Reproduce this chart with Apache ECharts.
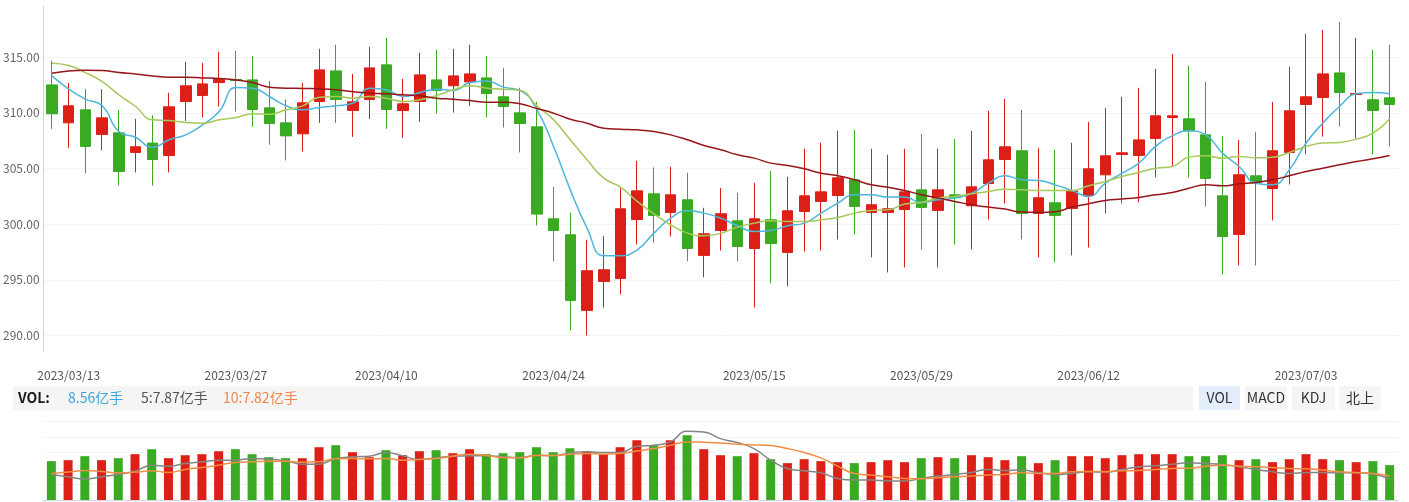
<!DOCTYPE html>
<html><head><meta charset="utf-8">
<script src="https://cdn.jsdelivr.net/npm/echarts@6/dist/echarts.min.js"></script>
<style>html,body{margin:0;padding:0;background:#fff}#c{width:1409px;height:502px}</style>
</head><body><div id="c"></div>
<script>
const dates = [
'2023/03/10',
'2023/03/13','2023/03/14','2023/03/15','2023/03/16','2023/03/17',
'2023/03/20','2023/03/21','2023/03/22','2023/03/23','2023/03/24',
'2023/03/27','2023/03/28','2023/03/29','2023/03/30','2023/03/31',
'2023/04/03','2023/04/04','2023/04/06','2023/04/07',
'2023/04/10','2023/04/11','2023/04/12','2023/04/13','2023/04/14',
'2023/04/17','2023/04/18','2023/04/19','2023/04/20','2023/04/21',
'2023/04/24','2023/04/25','2023/04/26','2023/04/27','2023/04/28',
'2023/05/04','2023/05/05',
'2023/05/08','2023/05/09','2023/05/10','2023/05/11','2023/05/12',
'2023/05/15','2023/05/16','2023/05/17','2023/05/18','2023/05/19',
'2023/05/22','2023/05/23','2023/05/24','2023/05/25','2023/05/26',
'2023/05/29','2023/05/30','2023/05/31',
'2023/06/01','2023/06/02',
'2023/06/05','2023/06/06','2023/06/07','2023/06/08','2023/06/09',
'2023/06/12','2023/06/13','2023/06/14','2023/06/15','2023/06/16',
'2023/06/19','2023/06/20','2023/06/21',
'2023/06/26','2023/06/27','2023/06/28','2023/06/29','2023/06/30',
'2023/07/03','2023/07/04','2023/07/05','2023/07/06','2023/07/07',
'2023/07/10'];
const tickDates = ['2023/03/13','2023/03/27','2023/04/10','2023/04/24','2023/05/15','2023/05/29','2023/06/12','2023/07/03'];

const opens = [
312.51,309.10,310.27,308.05,308.20,306.44,307.28,306.17,311.02,311.56,
312.72,313.00,312.96,310.45,309.10,308.11,311.02,313.77,310.21,311.20,
314.31,310.21,311.02,312.96,312.43,312.78,313.14,311.44,310.00,308.74,
300.48,299.04,292.25,294.85,295.12,300.42,302.72,301.05,302.19,297.19,
299.43,300.30,297.81,300.39,297.46,301.14,302.04,302.57,303.98,301.05,
301.05,301.32,303.08,301.23,302.63,301.65,303.65,305.81,306.59,300.96,
301.92,301.41,302.57,304.43,306.26,306.17,307.69,309.58,309.46,308.02,
302.54,299.07,304.34,303.20,306.44,310.75,311.38,313.59,311.65,311.17,
311.35];
const closes = [
309.91,310.63,306.98,309.55,304.73,306.95,305.81,310.54,312.43,312.60,
313.00,312.90,310.30,309.04,307.93,310.90,313.86,311.20,310.99,314.04,
310.30,310.81,313.41,312.01,313.32,313.50,311.74,310.57,309.04,300.90,
299.43,293.14,295.81,295.90,301.38,302.99,300.78,302.63,297.81,299.13,
300.93,297.99,300.48,298.26,301.20,302.54,302.90,304.16,301.59,301.74,
301.38,302.90,301.50,303.08,302.40,303.35,305.78,306.95,300.96,302.37,
300.78,302.99,304.97,306.14,306.41,307.57,309.73,309.73,308.38,304.10,
298.89,304.43,303.71,306.59,310.18,311.44,313.50,311.83,311.74,310.21,
310.75];
const lows = [
308.56,306.86,304.58,306.62,303.47,304.64,303.47,304.64,309.28,309.61,
310.57,310.11,308.74,307.13,305.72,306.53,309.10,309.10,307.84,309.46,
308.56,307.75,309.19,309.94,310.03,310.63,309.58,308.68,306.44,299.88,
296.65,290.45,290.00,292.51,293.68,298.17,298.35,298.89,296.65,295.21,
297.63,296.65,292.51,294.67,294.40,297.54,297.63,298.62,299.07,297.01,
295.66,296.11,297.72,296.11,298.17,297.72,300.42,301.86,298.62,297.01,
296.56,297.19,297.90,300.96,301.86,301.95,304.19,305.18,304.19,301.59,
295.48,296.29,296.29,300.33,303.56,306.26,307.87,308.77,307.69,306.26,
306.98];
const highs = [
314.67,312.69,312.13,312.13,310.27,309.46,309.79,311.80,314.58,314.49,
315.48,315.57,315.12,312.87,311.20,312.69,315.75,316.11,313.50,315.93,
316.74,313.05,315.39,315.66,315.75,316.11,315.12,314.04,312.25,310.99,
303.35,301.02,298.59,298.95,303.23,305.69,305.09,305.15,304.61,301.47,
303.26,302.81,303.71,304.79,304.25,306.77,307.31,308.38,308.47,306.77,
306.23,306.77,308.11,306.77,307.66,308.38,310.18,311.26,310.27,306.86,
306.68,307.31,309.19,310.45,311.44,312.25,313.95,315.30,314.22,312.78,
307.93,307.57,308.29,310.99,314.13,317.10,317.46,318.17,316.74,315.66,
316.11];

const ma5 = [
313.32,312.13,311.23,310.63,308.32,307.81,306.89,307.58,308.02,308.92,
310.12,312.28,312.22,311.47,310.63,310.27,310.48,310.63,310.87,312.22,
312.07,311.47,311.83,312.13,312.01,312.72,312.87,312.31,312.01,310.27,
306.98,303.08,299.64,297.16,297.16,297.69,299.19,300.54,301.20,300.99,
300.54,299.85,299.34,299.43,299.85,300.09,300.99,301.89,302.64,302.64,
302.43,302.43,301.95,302.19,302.34,302.78,303.68,304.34,303.98,303.92,
303.53,303.02,302.49,303.68,304.58,305.48,306.98,307.93,308.38,308.02,
306.38,305.18,303.68,303.53,304.88,307.28,309.07,310.57,311.71,311.83,
311.71];
const ma10 = [
314.46,314.25,313.62,312.81,311.62,310.57,309.37,309.31,309.13,309.07,
309.37,309.58,309.91,309.88,310.27,310.63,311.41,311.47,311.32,311.47,
311.32,311.02,311.17,311.56,312.07,312.43,312.22,312.13,312.01,310.63,
309.37,307.58,305.78,304.13,303.32,302.04,300.93,299.94,299.19,298.95,
299.19,299.73,300.09,300.30,300.24,300.24,300.39,300.60,300.99,301.23,
301.29,301.80,301.95,302.34,302.49,302.72,302.93,303.14,303.08,303.02,
303.02,303.02,303.44,303.83,304.28,304.64,305.03,305.18,306.02,306.14,
305.93,306.08,305.96,306.02,306.44,306.98,307.28,307.34,307.64,308.17,
309.46];
const ma60 = [
313.56,313.77,313.83,313.80,313.62,313.50,313.32,313.20,313.20,313.14,
313.08,312.96,312.72,312.31,312.22,312.19,312.16,312.07,311.89,311.77,
311.71,311.62,311.53,311.32,311.23,311.11,310.96,310.96,310.81,310.39,
309.97,309.43,309.07,308.62,308.53,308.47,308.32,308.02,307.58,307.07,
306.68,306.23,305.93,305.48,305.27,304.97,304.58,304.34,303.98,303.53,
303.32,303.02,302.64,302.34,302.04,301.74,301.53,301.35,301.08,301.05,
301.11,301.53,301.83,302.13,302.25,302.40,302.64,302.84,303.23,303.53,
303.44,303.62,303.74,303.98,304.34,304.73,305.03,305.33,305.63,305.87,
306.17];

const volumes = [
9.54,9.78,10.76,9.78,10.27,11.25,12.47,10.27,11.00,11.25,
11.98,12.47,11.25,10.51,10.27,10.27,12.96,13.45,11.74,10.51,
12.23,11.00,11.98,12.23,11.49,12.47,11.25,11.49,11.74,12.96,
11.74,12.71,11.98,11.25,12.96,14.67,13.45,14.67,15.89,12.47,
11.00,10.76,11.49,10.02,9.05,10.02,9.54,9.29,9.05,9.29,
9.78,9.29,10.27,10.51,10.27,11.00,10.51,9.78,10.76,9.05,
9.78,10.76,10.76,10.27,11.00,11.25,11.25,11.25,10.76,10.76,
11.00,9.78,10.02,9.29,10.02,11.25,10.02,9.78,9.29,9.54,
8.56];
const volMa5 = [
6.28,5.71,5.13,5.71,6.28,7.09,8.56,8.31,8.97,9.37,
9.78,9.78,10.19,10.02,9.62,8.80,8.80,10.19,10.60,10.76,
11.65,10.84,9.94,10.35,10.76,10.84,10.84,10.60,10.43,11.00,
10.84,11.57,11.82,11.65,11.65,13.20,13.45,14.26,16.87,16.71,
15.08,14.10,12.63,9.78,7.74,7.17,6.68,5.30,4.89,4.89,
4.73,4.65,5.30,5.87,6.28,6.76,7.50,7.25,7.34,6.68,
6.28,6.52,6.93,6.85,7.50,8.15,8.39,8.80,9.13,8.97,
8.72,8.15,7.50,6.93,6.52,6.76,6.76,6.68,6.68,6.36,
5.13];
const volMa10 = [
6.52,6.85,7.25,7.01,6.68,6.85,7.17,6.76,7.50,7.99,
8.56,9.21,9.37,9.54,9.54,9.29,9.37,10.11,10.19,10.11,
10.19,9.78,9.94,10.19,10.76,11.25,10.92,10.43,10.35,10.92,
10.92,11.25,11.41,11.25,11.41,12.06,12.63,13.45,14.26,14.18,
14.02,13.69,13.53,13.37,12.63,11.65,10.35,8.31,6.52,6.11,
5.71,5.30,5.22,5.46,5.71,5.87,6.11,6.28,6.68,6.52,
6.52,6.93,7.01,6.93,7.17,7.25,7.50,7.74,7.82,8.31,
8.56,8.31,8.15,7.99,7.74,7.66,7.34,6.93,6.76,6.52,
5.87];

const volLabel = 'VOL:';
const volText = '8.56亿手';
const volMa5Text = '5:7.87亿手';
const volMa10Text = '10:7.82亿手';
const tabs = ['VOL','MACD','KDJ','北上'];

const RED = '#dc1f17', GREEN = '#39aa22';
const FONT = '"Noto Sans CJK SC","Noto Sans",sans-serif';

const chart = echarts.init(document.getElementById('c'), null, {renderer:'canvas'});

const candleData = dates.map((d,i)=>[opens[i], closes[i], lows[i], highs[i]]);
const volData = volumes.map((v,i)=>({value:v, itemStyle:{color: closes[i] >= opens[i] ? RED : GREEN}}));

const tabX = [1199, 1245, 1292, 1339];
const tabW = [41, 42, 43, 42];
const graphics = [
  {type:'rect', x:13, y:386, shape:{width:1180, height:24}, style:{fill:'#f5f5f5'}, silent:true},
  {type:'text', x:18, y:398, style:{text:volLabel, fill:'#1a1a1a', font:'bold 14px ' + FONT, verticalAlign:'middle'}},
  {type:'text', x:68, y:398, style:{text:volText, fill:'#3ea7d9', font:'14px ' + FONT, verticalAlign:'middle'}},
  {type:'text', x:141, y:398, style:{text:volMa5Text, fill:'#555555', font:'14px ' + FONT, verticalAlign:'middle'}},
  {type:'text', x:223, y:398, style:{text:volMa10Text, fill:'#f0874a', font:'14px ' + FONT, verticalAlign:'middle'}}
];
tabs.forEach((t,i)=>{
  graphics.push({type:'rect', x:tabX[i], y:386, shape:{width:tabW[i], height:24}, style:{fill: i===0 ? '#e4eefa' : '#f5f5f5'}});
  graphics.push({type:'text', x:tabX[i]+tabW[i]/2, y:398, style:{text:t, fill:'#333', font:'14px ' + FONT, align:'center', verticalAlign:'middle'}});
});

const isTick5 = v => Math.abs(v/5 - Math.round(v/5)) < 1e-6;

chart.setOption({
  animation:false,
  backgroundColor:'#fff',
  textStyle:{fontFamily:FONT},
  grid:[
    {left:43, right:11, top:6, height:345},
    {left:43, right:11, top:421, height:79}
  ],
  xAxis:[
    {type:'category', data:dates, gridIndex:0, boundaryGap:true,
     axisLine:{show:false}, axisTick:{show:false}, splitLine:{show:false},
     axisLabel:{color:'#555', fontSize:12, margin:18, fontFamily:FONT,
       interval:(idx, val)=>tickDates.includes(val)}},
    {type:'category', data:dates, gridIndex:1, boundaryGap:true,
     axisLine:{show:true, lineStyle:{color:'#c9d6ea', width:1}}, axisTick:{show:false},
     axisLabel:{show:false}, splitLine:{show:false}}
  ],
  yAxis:[
    {type:'value', gridIndex:0, min:288.6, max:319.6, splitNumber:5, scale:true,
     axisLine:{show:true, lineStyle:{color:'#c9d6ea', width:1}}, axisTick:{show:false},
     axisLabel:{color:'#666', fontSize:12, margin:4, fontFamily:FONT, showMinLabel:false, showMaxLabel:false,
       formatter:v=> isTick5(v) ? v.toFixed(2) : ''},
     splitLine:{show:true, showMinLine:false, showMaxLine:false, lineStyle:{color:'#f3f3f3', width:1}}},
    {type:'value', gridIndex:1, min:0, max:19.4, interval:3.88,
     axisLine:{show:false}, axisTick:{show:false}, axisLabel:{show:false},
     splitLine:{show:true, showMinLine:false, lineStyle:{color:'#f3f3f3', width:1}}}
  ],
  series:[
    {type:'candlestick', xAxisIndex:0, yAxisIndex:0, data:candleData, barWidth:11,
     itemStyle:{color:RED, color0:GREEN, borderColor:RED, borderColor0:GREEN, borderWidth:1}},
    {type:'line', name:'MA5', xAxisIndex:0, yAxisIndex:0, data:ma5, smooth:true, showSymbol:false,
     lineStyle:{color:'#4cb6dc', width:1.5}},
    {type:'line', name:'MA10', xAxisIndex:0, yAxisIndex:0, data:ma10, smooth:true, showSymbol:false,
     lineStyle:{color:'#a6c95a', width:1.5}},
    {type:'line', name:'MA60', xAxisIndex:0, yAxisIndex:0, data:ma60, smooth:true, showSymbol:false,
     lineStyle:{color:'#98161b', width:1.5}},
    {type:'bar', xAxisIndex:1, yAxisIndex:1, data:volData, barWidth:9},
    {type:'line', xAxisIndex:1, yAxisIndex:1, data:volMa5, smooth:true, showSymbol:false,
     lineStyle:{color:'#858585', width:1.5}},
    {type:'line', xAxisIndex:1, yAxisIndex:1, data:volMa10, smooth:true, showSymbol:false,
     lineStyle:{color:'#f28d45', width:1.5}}
  ],
  graphic:graphics
});
</script>
</body></html>
